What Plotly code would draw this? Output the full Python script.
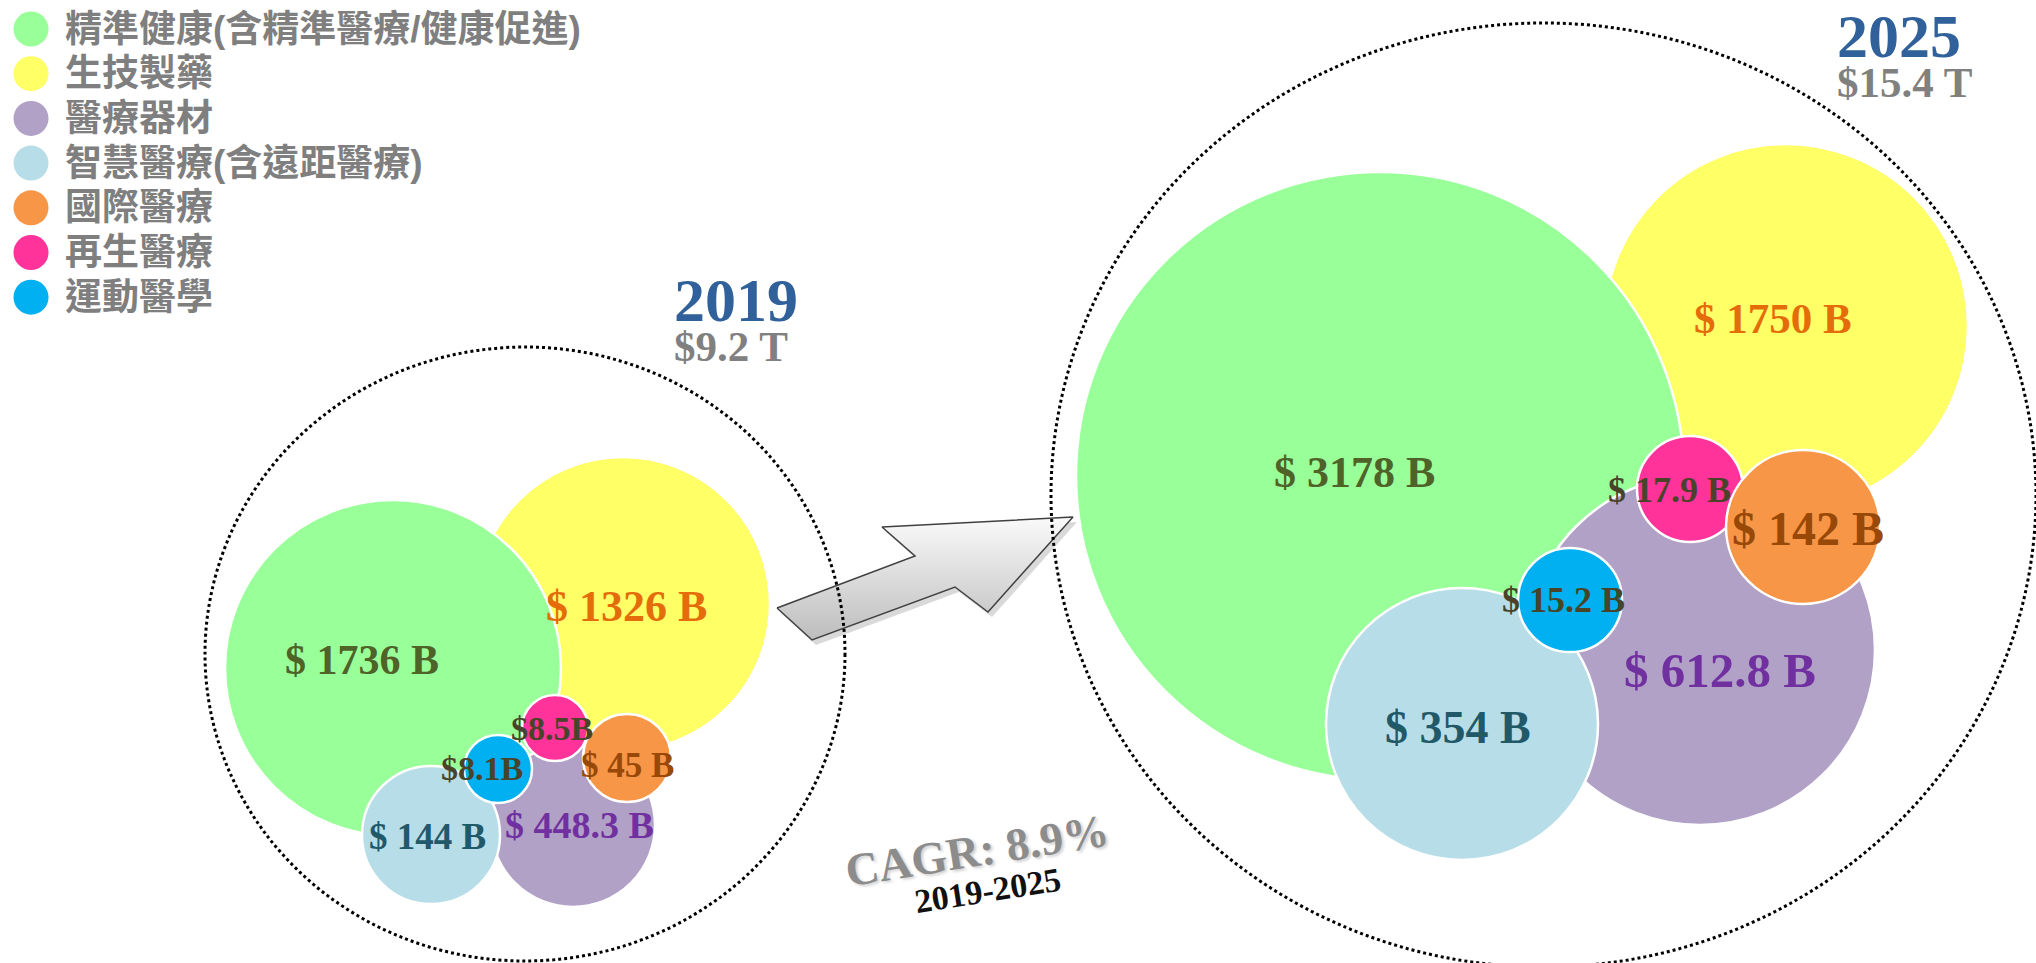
import plotly.graph_objects as go

# ---- data ----
categories = [
    "精準健康(含精準醫療/健康促進)",
    "生技製藥",
    "醫療器材",
    "智慧醫療(含遠距醫療)",
    "國際醫療",
    "再生醫療",
    "運動醫學",
]
values_2019 = [1736, 1326, 448.3, 144, 45, 8.5, 8.1]   # $ B
values_2025 = [3178, 1750, 612.8, 354, 142, 17.9, 15.2]  # $ B
years = ["2019", "2025"]
totals = [9.2, 15.4]   # $ T
cagr = 8.9
cagr_period = "2019-2025"

# ---- styles ----
bubble_colors = ["#99FF99", "#FFFF66", "#B2A1C7", "#B7DDE8", "#F79646", "#FF3399", "#00B0F0"]
label_colors = ["#4F6228", "#E46C0A", "#7030A0", "#215968", "#984807", "#494429", "#494429"]
SERIF = "Liberation Serif, Times New Roman, serif"
# latin primary font keeps line boxes compact, CJK glyphs fall back to Noto
CJK = "Liberation Sans, Noto Sans CJK TC, sans-serif"
W, H = 2036, 963

# hand-packed bubble layout (pixel space), same order as categories
layout_2019 = dict(
    cx=[393, 623, 573, 431, 627, 555, 498],
    cy=[668, 604, 825, 835, 758, 728, 769],
    r=[168, 147, 82, 69, 44, 33, 34],
    lx=[362, 626, 579, 427, 627, 552, 482],
    ly=[660, 606, 825, 836, 765, 728, 768],
    fs=[42, 44, 38, 37, 35, 34, 34],
    ring=(205, 845, 347, 961),
    head=(672, 318),
)
layout_2025 = dict(
    cx=[1380, 1786, 1700, 1462, 1803, 1690, 1570],
    cy=[476, 326, 650, 724, 527, 489, 600],
    r=[304, 182, 175, 136, 77, 53, 52],
    lx=[1354, 1773, 1720, 1458, 1808, 1669, 1563],
    ly=[472, 318, 670, 727, 528, 490, 600],
    fs=[44, 43, 49, 46, 48, 36, 36],
    ring=(1051, 2036, 23, 967),
    head=(1835, 54),
)
draw_order = [1, 0, 2, 3, 6, 5, 4]


def fmt(v, compact):
    return f"${v:g}B" if compact else f"$ {v:g} B"


fig = go.Figure()

# arrow between the two years
arrow_x = [777, 915, 882, 1073, 988, 955, 812, 777]
arrow_y = [608, 556, 527, 517, 612, 587, 640, 608]
fig.add_trace(go.Scatter(
    x=[x + 4 for x in arrow_x], y=[y + 5 for y in arrow_y], mode="lines",
    fill="toself", fillcolor="rgba(0,0,0,0.15)", line=dict(width=0),
    hoverinfo="skip"))
fig.add_trace(go.Scatter(
    x=arrow_x, y=arrow_y, mode="lines", fill="toself",
    fillgradient=dict(type="vertical", colorscale=[[0, "#BDBDBD"], [1, "#FAFAFA"]]),
    line=dict(color="#404040", width=1.5), hoverinfo="skip"))

annotations = []
shapes = []
for yi, (vals, lay) in enumerate([(values_2019, layout_2019), (values_2025, layout_2025)]):
    fig.add_trace(go.Scatter(
        x=[lay["cx"][i] for i in draw_order],
        y=[lay["cy"][i] for i in draw_order],
        mode="markers",
        marker=dict(size=[2 * lay["r"][i] for i in draw_order],
                    color=[bubble_colors[i] for i in draw_order],
                    opacity=1, line=dict(color="white", width=2.5)),
        text=[categories[i] for i in draw_order],
        hoverinfo="text", cliponaxis=False))
    for i, v in enumerate(vals):
        annotations.append(dict(
            x=lay["lx"][i], y=lay["ly"][i], text=fmt(v, yi == 0 and v < 10),
            showarrow=False, xanchor="center", yanchor="middle",
            font=dict(family=SERIF, size=lay["fs"][i], color=label_colors[i], weight="bold")))
    x0, x1, y0, y1 = lay["ring"]
    shapes.append(dict(type="circle", xref="x", yref="y", x0=x0, x1=x1, y0=y0, y1=y1,
                       line=dict(color="black", width=3, dash="dot"), layer="above"))
    hx, hy = lay["head"]
    head_text = (f"<span style='font-size:62px;color:#30619A'>{years[yi]}</span><br>"
                 f"<span style='font-size:43px;color:#808080'>${totals[yi]:g} T</span>")
    annotations.append(dict(x=hx, y=hy, text=head_text, showarrow=False,
                            xanchor="left", yanchor="middle", align="left",
                            font=dict(family=SERIF, size=31, color="#808080", weight="bold")))

# CAGR text
annotations.append(dict(x=977, y=850, text=f"CAGR: {cagr}%", showarrow=False, textangle=-9,
                        font=dict(family=SERIF, size=46, color="#8C8C8C", weight="bold",
                                  shadow="2px 2px 3px #cfcfcf")))
annotations.append(dict(x=987, y=890, text=cagr_period, showarrow=False, textangle=-9,
                        font=dict(family=SERIF, size=34, color="#111111", weight="bold")))

# legend (drawn manually for big round keys)
leg_y = [29 + 44.7 * i for i in range(len(categories))]
fig.add_trace(go.Scatter(
    x=[31] * len(categories), y=leg_y, mode="markers",
    marker=dict(size=35, color=bubble_colors, line=dict(width=0)),
    hoverinfo="skip", cliponaxis=False))
for name, yy in zip(categories, leg_y):
    annotations.append(dict(x=63, y=yy, text=name, showarrow=False, xanchor="left",
                            yanchor="middle",
                            font=dict(family=CJK, size=37, color="#7F7F7F", weight="bold")))

fig.update_layout(
    width=W, height=H, margin=dict(l=0, r=0, t=0, b=0),
    paper_bgcolor="white", plot_bgcolor="white", showlegend=False,
    xaxis=dict(range=[0, W], visible=False, fixedrange=True),
    yaxis=dict(range=[H, 0], visible=False, fixedrange=True),
    annotations=annotations, shapes=shapes,
)

fig.write_html("out.html", config={"displayModeBar": False},
               post_script="document.body.style.margin='0';document.body.style.overflow='hidden';")
